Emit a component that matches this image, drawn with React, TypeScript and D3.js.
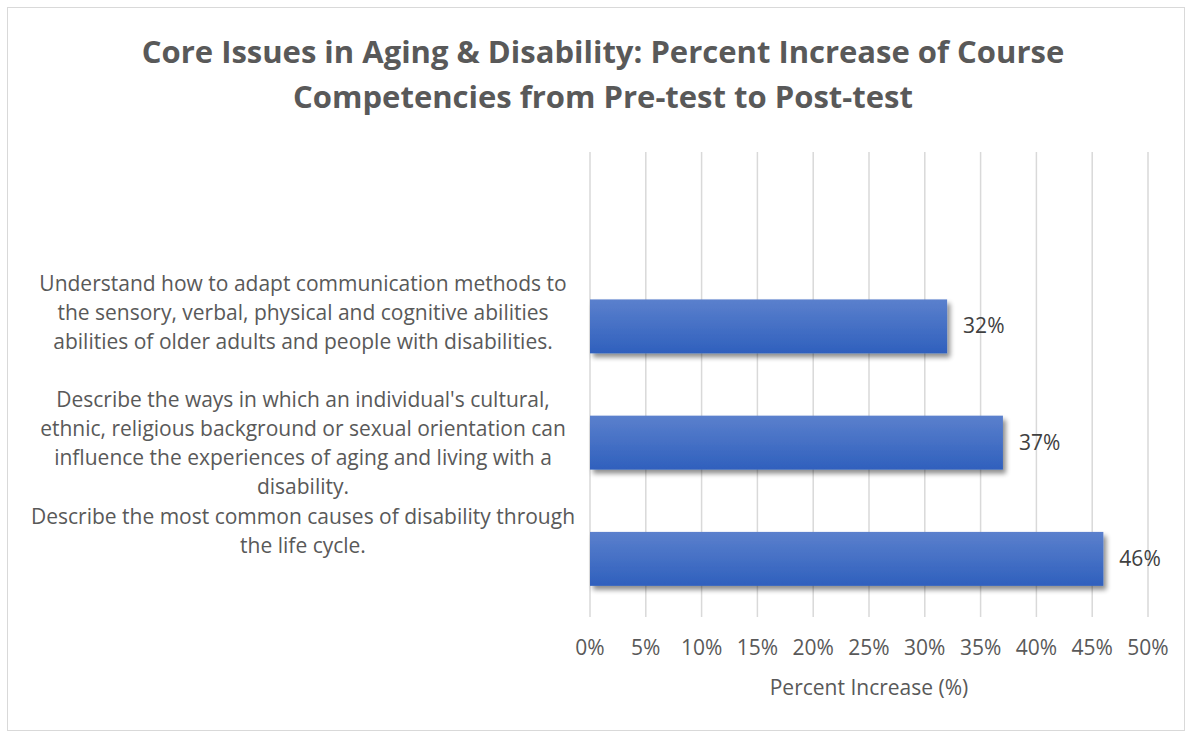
import React from "react";
import * as d3 from "d3";

const categories: string[][] = [
  [],
  [
    "Understand how to adapt communication methods to",
    "the sensory, verbal, physical and cognitive abilities",
    "abilities of older adults and people with disabilities.",
  ],
  [
    "Describe the ways in which an individual's cultural,",
    "ethnic, religious background or sexual orientation can",
    "influence the experiences of aging and living with a",
    "disability.",
  ],
  [
    "Describe the most common causes of disability through",
    "the life cycle.",
  ],
];
const values: (number | null)[] = [null, 32, 37, 46];
const xTicks = [0, 5, 10, 15, 20, 25, 30, 35, 40, 45, 50];
const titleLines = [
  "Core Issues in Aging & Disability: Percent Increase of Course",
  "Competencies from Pre-test to Post-test",
];
const axisTitle = "Percent Increase (%)";
const labelShift = [0, -13, 1, -27];

export default function App() {
  const W = 1186, H = 732;
  const left = 590, right = 1148, top = 152, bottom = 617;
  const x = d3.scaleLinear().domain([0, 50]).range([left, right]);
  const y = d3.scaleBand<number>().domain(d3.range(categories.length)).range([top, bottom]).paddingInner(0.536).paddingOuter(0.268);
  const font = "'Open Sans', sans-serif";
  const grey = "#595959";
  const lh = 29;
  const fs = 21;
  return (
    <svg width={W} height={H} style={{ position: "absolute", left: 0, top: 0 }} fontFamily={font}>
      <defs>
        <linearGradient id="barGrad" x1="0" y1="0" x2="0" y2="1">
          <stop offset="0%" stopColor="#5b80cd" />
          <stop offset="100%" stopColor="#2f60bd" />
        </linearGradient>
        <filter id="shadow" x="-5%" y="-20%" width="115%" height="160%">
          <feGaussianBlur in="SourceAlpha" stdDeviation="2.5" />
          <feOffset dx="3" dy="4" result="b" />
          <feComponentTransfer><feFuncA type="linear" slope="0.45" /></feComponentTransfer>
          <feMerge><feMergeNode /><feMergeNode in="SourceGraphic" /></feMerge>
        </filter>
      </defs>
      <rect x={0} y={0} width={W} height={H} fill="#fff" />
      <rect x={7.5} y={7.5} width={1177} height={723} fill="#fff" stroke="#d9d9d9" strokeWidth={1} />
      {titleLines.map((t, i) => (
        <text key={i} x={603} y={63 + i * 45} textAnchor="middle" fontSize={31} fontWeight="bold" fill={grey}>{t}</text>
      ))}
      {xTicks.map((t) => (
        <line key={t} x1={x(t)} x2={x(t)} y1={top} y2={bottom} stroke="#d9d9d9" strokeWidth={1.5} />
      ))}
      {values.map((v, i) =>
        v == null ? null : (
          <g key={i}>
            <rect x={x(0)} y={y(i)!} width={x(v) - x(0)} height={y.bandwidth()} fill="url(#barGrad)" filter="url(#shadow)" />
            <text x={x(v) + 16} y={y(i)! + y.bandwidth() / 2 + 7} fontSize={fs} fill="#404040">{v}%</text>
          </g>
        )
      )}
      {categories.map((lines, i) => {
        const cy = y(i)! + y.bandwidth() / 2 + labelShift[i];
        const y0 = cy - ((lines.length - 1) * lh) / 2;
        return lines.map((l, j) => (
          <text key={i + "-" + j} x={303} y={y0 + j * lh + 7} textAnchor="middle" fontSize={fs} fill={grey}>{l}</text>
        ));
      })}
      {xTicks.map((t) => (
        <text key={"t" + t} x={x(t)} y={655} textAnchor="middle" fontSize={fs} fill={grey}>{t}%</text>
      ))}
      <text x={x(25)} y={695} textAnchor="middle" fontSize={fs} fill={grey}>{axisTitle}</text>
    </svg>
  );
}
